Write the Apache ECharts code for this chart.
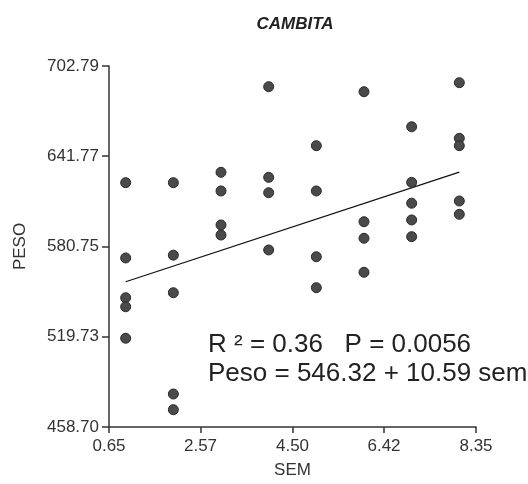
<!DOCTYPE html>
<html>
<head>
<meta charset="utf-8">
<script src="https://cdn.jsdelivr.net/npm/echarts@6/dist/echarts.min.js"></script>
<style>html,body{margin:0;padding:0;background:#fff}#c{width:528px;height:484px}</style>
</head>
<body>
<div id="c"></div>
<script>
var title = 'CAMBITA';
var xName = 'SEM';
var yName = 'PESO';
var xTicks = [0.65, 2.57, 4.50, 6.42, 8.35];
var yTicks = [458.70, 519.73, 580.75, 641.77, 702.79];
var sem = [1,1,1,1,1, 2,2,2,2,2, 3,3,3,3, 4,4,4,4, 5,5,5,5, 6,6,6,6, 7,7,7,7,7, 8,8,8,8,8];
var peso = [623.9,573.0,546.1,540.0,518.7,
            623.9,574.9,549.5,481.0,470.4,
            630.9,618.3,595.3,588.5,
            688.8,627.5,617.1,578.4,
            648.9,618.3,573.8,552.9,
            685.4,597.5,586.3,563.3,
            661.7,624.1,610.0,598.7,587.4,
            691.5,653.9,648.9,611.5,602.5];
var intercept = 546.32;
var slope = 10.59;
var fitRange = [1, 8];
var statsText = 'R \u00b2 = 0.36   P = 0.0056';
var eqText = 'Peso = 546.32 + 10.59 sem';

var pts = sem.map(function(s,i){return [s, peso[i]];});
var fit = fitRange.map(function(x){return [x, intercept + slope*x];});

var chart = echarts.init(document.getElementById('c'), null, {renderer:'canvas'});
var font = 'Liberation Sans, Arial, sans-serif';
chart.setOption({
  animation:false,
  backgroundColor:'#fff',
  title:{text:title, left:290, top:11, textAlign:'center',
    textStyle:{fontFamily:font, fontSize:17, fontWeight:'bold', fontStyle:'italic', color:'#222'}},
  grid:{left:109, right:52, top:66, bottom:57},
  xAxis:{type:'value', min:xTicks[0], max:xTicks[xTicks.length-1],
    name:xName, nameLocation:'middle', nameGap:35,
    nameTextStyle:{fontFamily:font, fontSize:17, color:'#333'},
    axisLine:{lineStyle:{color:'#333', width:1.5}},
    axisTick:{customValues:xTicks, length:6, lineStyle:{color:'#333', width:1.5}},
    axisLabel:{customValues:xTicks, margin:11, fontFamily:font, fontSize:17, color:'#333',
      formatter:function(v){return v.toFixed(2);}},
    splitLine:{show:false}},
  yAxis:{type:'value', min:yTicks[0], max:yTicks[yTicks.length-1],
    name:yName, nameLocation:'middle', nameGap:80, nameRotate:90,
    nameTextStyle:{fontFamily:font, fontSize:17, color:'#333'},
    axisLine:{show:true, lineStyle:{color:'#333', width:1.5}},
    axisTick:{show:true, customValues:yTicks, length:7, lineStyle:{color:'#333', width:1.5}},
    axisLabel:{customValues:yTicks, margin:10, fontFamily:font, fontSize:17, color:'#333',
      formatter:function(v){return v.toFixed(2);}},
    splitLine:{show:false}},
  series:[
    {type:'scatter', data:pts, symbol:'circle', symbolSize:10,
      itemStyle:{color:'#4a4a4a', borderColor:'#2a2a2a', borderWidth:1, opacity:1}, z:3},
    {type:'line', data:fit, showSymbol:false, symbol:'none',
      lineStyle:{color:'#111', width:1.3}, z:2}
  ],
  graphic:[
    {type:'text', left:208, top:332, style:{text:statsText, fontFamily:font, fontSize:26, fill:'#222'}},
    {type:'text', left:208, top:361, style:{text:eqText, fontFamily:font, fontSize:26, fill:'#222'}}
  ]
});
</script>
</body>
</html>
